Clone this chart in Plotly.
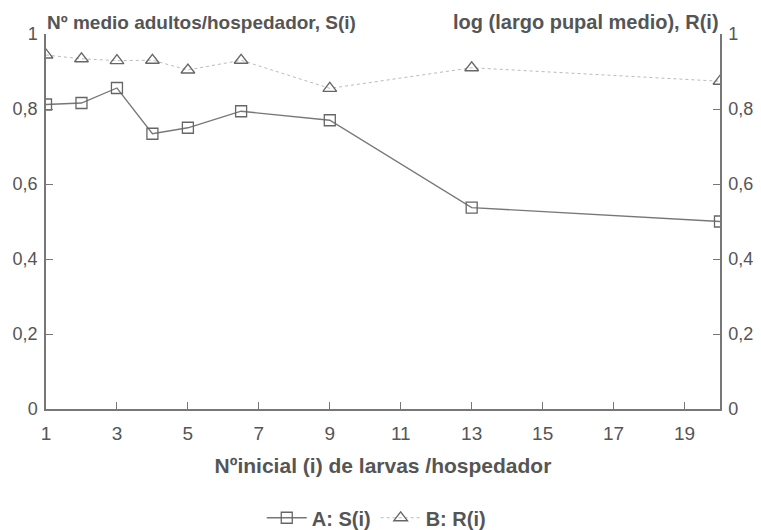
import plotly.graph_objects as go

x_vals = [1, 2, 3, 4, 5, 6.5, 9, 13, 20]
s_vals = [0.812, 0.816, 0.856, 0.734, 0.750, 0.794, 0.770, 0.537, 0.500]
r_vals = [0.944, 0.934, 0.929, 0.930, 0.904, 0.930, 0.855, 0.910, 0.874]

x_ticks = [1, 3, 5, 7, 9, 11, 13, 15, 17, 19]
y_ticks = [0, 0.2, 0.4, 0.6, 0.8, 1]
y_ticktext = ["0", "0,2", "0,4", "0,6", "0,8", "1"]

grey = "#555555"
font_fam = "Liberation Sans, Arial, sans-serif"

fig = go.Figure()
fig.add_trace(go.Scatter(
    x=x_vals, y=s_vals, name="<b>A: S(i)</b>", mode="lines+markers",
    line=dict(color="#777777", width=1.3),
    marker=dict(symbol="square-open", size=11, color="#666666", line=dict(width=1.3)),
))
fig.add_trace(go.Scatter(
    x=x_vals, y=r_vals, name="<b>B: R(i)</b>", mode="lines+markers", yaxis="y2",
    line=dict(color="#bbbbbb", width=1, dash="dot"),
    marker=dict(symbol="triangle-up-open", size=12, color="#666666", line=dict(width=1.3)),
))

axis_common = dict(
    range=[0, 1], tickvals=y_ticks, ticktext=y_ticktext,
    showgrid=False, zeroline=False, showline=True, linecolor="#777777", linewidth=1.5,
    ticks="inside", ticklen=7, tickcolor="#777777", ticklabelstandoff=3,
    tickfont=dict(size=18, color=grey, family=font_fam),
)

fig.update_layout(
    width=753, height=522,
    margin=dict(l=38, r=41, t=26, b=121, autoexpand=False),
    paper_bgcolor="white", plot_bgcolor="white",
    font=dict(family=font_fam, color=grey),
    xaxis=dict(
        range=[1, 20], tickvals=x_ticks, showgrid=False, zeroline=False,
        showline=True, linecolor="#777777", linewidth=1.5,
        ticks="inside", ticklen=7, tickcolor="#777777", ticklabelstandoff=6,
        tickfont=dict(size=19, color=grey, family=font_fam),
        title=dict(text="<b>Nºinicial (i) de larvas /hospedador</b>",
                   font=dict(size=21, color=grey, family=font_fam), standoff=16),
    ),
    yaxis=dict(**axis_common, side="left"),
    yaxis2=dict(**axis_common, side="right", overlaying="y"),
    legend=dict(orientation="h", x=0.49, xanchor="center", y=-0.29, yanchor="middle",
                font=dict(size=20, color=grey, family=font_fam), itemwidth=40),
    annotations=[
        dict(text="<b>Nº medio adultos/hospedador, S(i)</b>", xref="paper", yref="paper",
             x=0, y=1, xanchor="left", yanchor="bottom", yshift=0, showarrow=False,
             borderpad=0, font=dict(size=19, color=grey, family=font_fam)),
        dict(text="<b>log (largo pupal medio), R(i)</b>", xref="paper", yref="paper",
             x=1, y=1, xanchor="right", yanchor="bottom", yshift=0, showarrow=False,
             borderpad=0, font=dict(size=20, color=grey, family=font_fam)),
    ],
)

fig.write_html("out.html")
